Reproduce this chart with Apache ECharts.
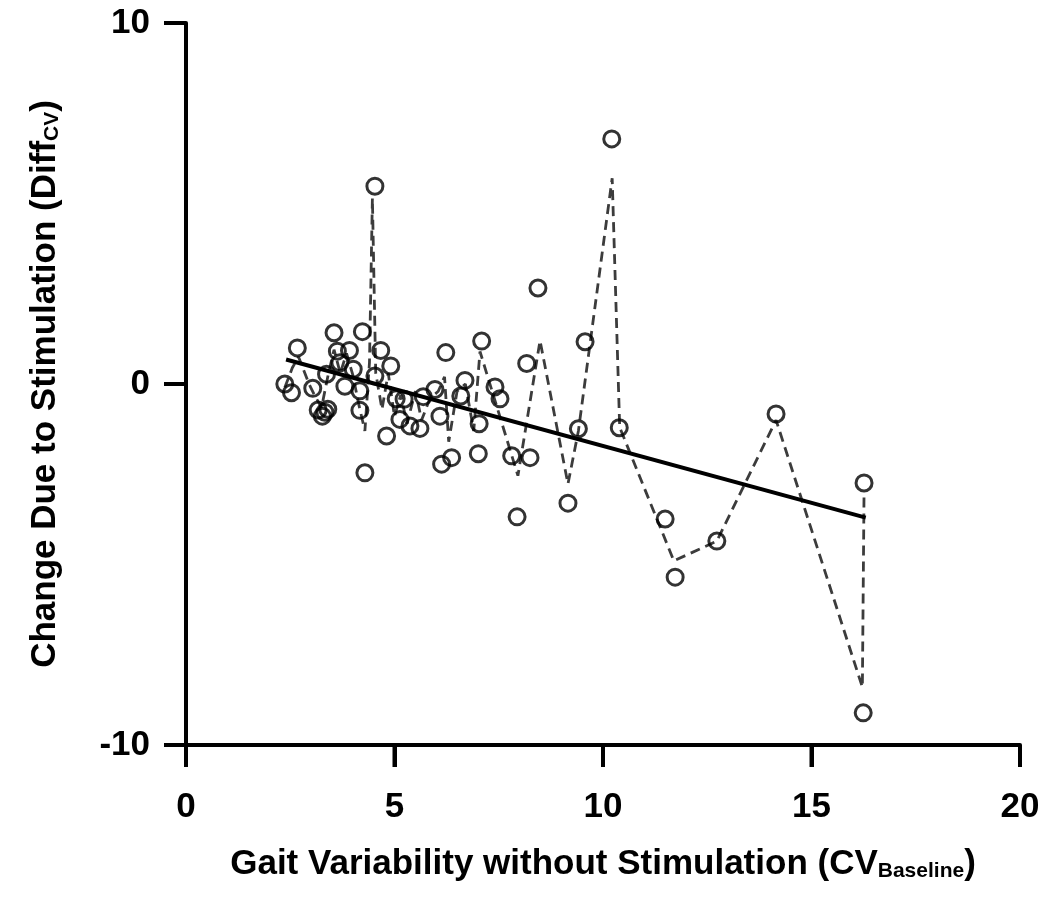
<!DOCTYPE html>
<html>
<head>
<meta charset="utf-8">
<script src="https://cdn.jsdelivr.net/npm/echarts@6/dist/echarts.min.js"></script>
<style>
html,body{margin:0;padding:0;background:#fff;}
#chart{width:1050px;height:897px;}
</style>
</head>
<body>
<div id="chart"></div>
<script>
// Observed points: baseline CV (x) and change due to stimulation (y)
const pointsX = [2.37,2.53,2.67,3.04,3.17,3.27,3.33,3.40,3.37,3.55,3.63,3.69,3.81,3.92,4.01,4.17,4.17,4.23,4.29,4.53,4.53,4.67,4.81,4.91,5.04,5.13,5.23,5.37,5.61,5.69,5.97,6.09,6.13,6.23,6.37,6.59,6.69,7.01,7.03,7.09,7.41,7.53,7.81,7.94,8.17,8.25,8.44,9.16,9.41,9.57,10.21,10.39,11.49,11.73,12.73,14.15,16.24,16.26];
const pointsY = [0.00,-0.24,1.00,-0.12,-0.72,-0.89,-0.78,-0.70,0.27,1.42,0.91,0.59,-0.06,0.93,0.41,-0.19,-0.73,1.45,-2.46,5.48,0.22,0.93,-1.44,0.50,-0.41,-0.98,-0.42,-1.16,-1.23,-0.35,-0.15,-0.89,-2.22,0.87,-2.04,-0.33,0.10,-1.93,-1.10,1.19,-0.08,-0.41,-1.99,-3.68,0.57,-2.04,2.66,-3.30,-1.24,1.17,6.79,-1.21,-3.74,-5.35,-4.35,-0.83,-9.11,-2.74];

// Dashed trace
const dashX = [2.37,2.55,2.70,2.95,3.10,3.25,3.40,3.55,3.70,3.85,4.00,4.15,4.29,4.40,4.47,4.55,4.70,4.85,5.00,5.15,5.30,5.50,5.65,5.85,6.05,6.20,6.30,6.50,6.70,6.90,7.05,7.96,8.49,9.16,9.41,10.22,10.40,11.70,12.73,14.15,16.22,16.26];
const dashY = [-0.10,0.45,0.75,0.00,-0.35,-0.65,0.20,0.95,0.30,0.85,0.25,-0.60,-1.30,0.60,5.15,0.30,-0.70,0.30,-0.90,-0.30,-1.10,-0.20,-1.00,-0.40,-0.20,0.20,-1.60,-0.20,0.00,-1.30,0.90,-2.54,1.20,-2.77,-1.30,5.70,-1.20,-4.90,-4.35,-1.00,-8.40,-3.00];

// Regression line endpoints
const fitX = [2.40, 16.30];
const fitY = [0.68, -3.70];

const xTicks = [0, 5, 10, 15, 20];
const yTicks = [-10, 0, 10];

const zip = (a, b) => a.map((v, i) => [v, b[i]]);

const chart = echarts.init(document.getElementById('chart'), null, {renderer: 'canvas'});
const FONT = '"Liberation Sans", Arial, Helvetica, sans-serif';
const TICK_LEN = 22;
const AXIS_W = 4;

const rich = {
  m: {fontFamily: FONT, fontWeight: 'bold', fontSize: 35, color: '#000', lineHeight: 42},
  s: {fontFamily: FONT, fontWeight: 'bold', fontSize: 21, color: '#000', lineHeight: 42, padding: [14, 0, 0, 0]}
};

chart.setOption({
  animation: false,
  backgroundColor: '#ffffff',
  grid: {left: 186, right: 30, top: 23, bottom: 152, containLabel: false},
  xAxis: {
    type: 'value', min: 0, max: 20, interval: 5,
    axisLine: {show: true, onZero: false, lineStyle: {color: '#000', width: AXIS_W}},
    axisTick: {show: true, inside: false, length: TICK_LEN, lineStyle: {color: '#000', width: AXIS_W}},
    splitLine: {show: false},
    axisLabel: {color: '#000', fontFamily: FONT, fontWeight: 'bold', fontSize: 35, margin: 45},
    name: '{m|Gait Variability without Stimulation (CV}{s|Baseline}{m|)}',
    nameLocation: 'middle', nameGap: 98,
    nameTextStyle: {rich: rich}
  },
  yAxis: {
    type: 'value', min: -10, max: 10, interval: 10,
    axisLine: {show: true, onZero: false, lineStyle: {color: '#000', width: AXIS_W}},
    axisTick: {show: true, inside: false, length: TICK_LEN, lineStyle: {color: '#000', width: AXIS_W}},
    splitLine: {show: false},
    axisLabel: {color: '#000', fontFamily: FONT, fontWeight: 'bold', fontSize: 35, margin: 36},
    name: '{m|Change Due to Stimulation (Diff}{s|CV}{m|)}',
    nameLocation: 'middle', nameGap: 120,
    nameTextStyle: {rich: rich}
  },
  series: [
    {
      type: 'line', data: zip(dashX, dashY), symbol: 'none', z: 1,
      lineStyle: {color: '#3c3c3c', width: 2.8, type: [10, 6]}
    },
    {
      type: 'line', data: zip(fitX, fitY), symbol: 'none', z: 2,
      lineStyle: {color: '#000', width: 4}
    },
    {
      type: 'scatter', data: zip(pointsX, pointsY), symbol: 'circle', symbolSize: 16, z: 3,
      itemStyle: {color: 'rgba(0,0,0,0)', borderColor: '#000', borderWidth: 3}
    }
  ]
});

// Outward tick marks placed through the chart's own scales
const tickEls = [];
xTicks.forEach(v => {
  const p = chart.convertToPixel({gridIndex: 0}, [v, -10]);
  tickEls.push({type: 'line', silent: true, z: 100,
    shape: {x1: p[0], y1: p[1], x2: p[0], y2: p[1] + TICK_LEN},
    style: {stroke: '#000', lineWidth: AXIS_W}});
});
yTicks.forEach(v => {
  const p = chart.convertToPixel({gridIndex: 0}, [0, v]);
  tickEls.push({type: 'line', silent: true, z: 100,
    shape: {x1: p[0] - TICK_LEN, y1: p[1], x2: p[0], y2: p[1]},
    style: {stroke: '#000', lineWidth: AXIS_W}});
});
chart.setOption({graphic: {elements: tickEls}});
</script>
</body>
</html>
